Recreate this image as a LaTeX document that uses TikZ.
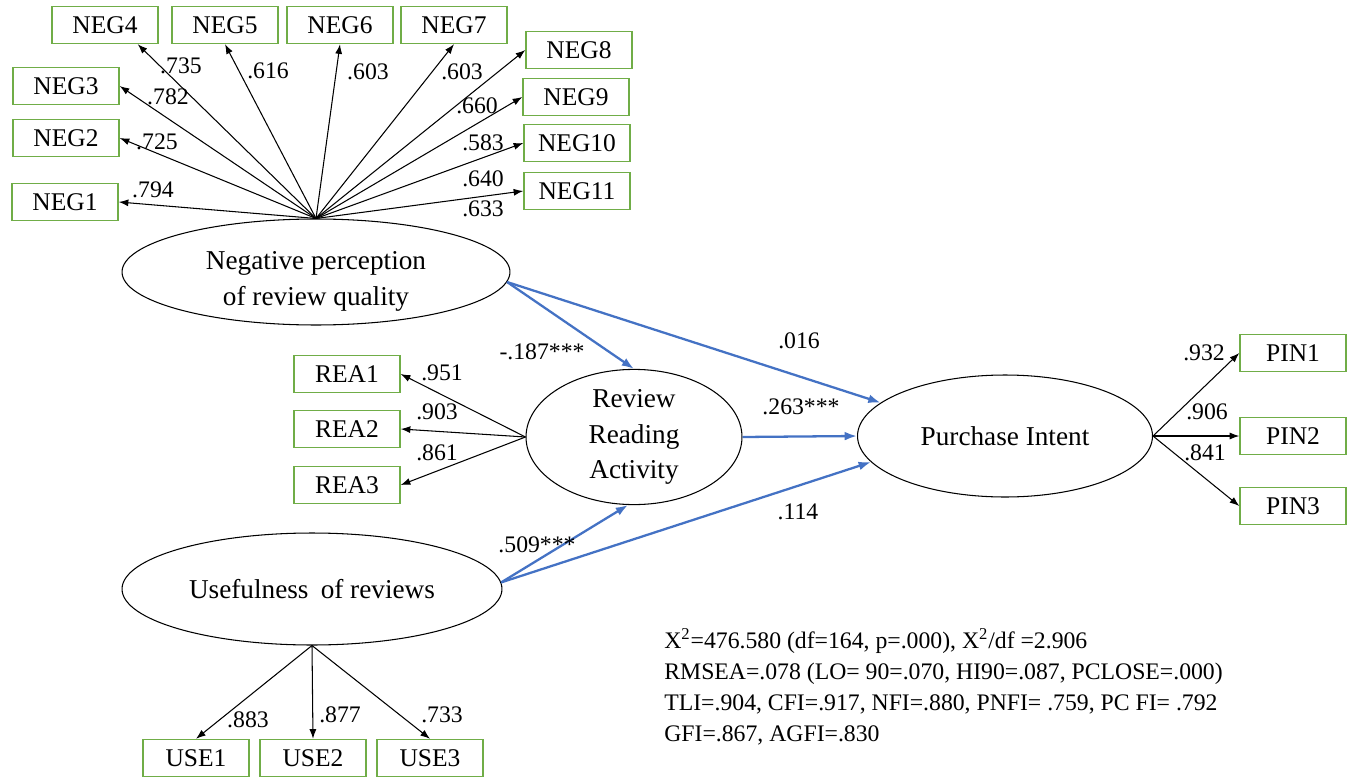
\documentclass[tikz,border=0pt]{standalone}
\usepackage{fontspec}
\setmainfont{Liberation Serif}
\usetikzlibrary{shapes.geometric, arrows.meta}

\definecolor{indgreen}{RGB}{112,173,71}
\definecolor{pathblue}{RGB}{68,114,196}

\begin{document}
\begin{tikzpicture}[x=0.02cm, y=-0.02cm,
  indicator/.style={draw=indgreen, line width=0.8pt, minimum width=2.12cm,
    minimum height=0.74cm, inner sep=0pt, font=\fontsize{14.5}{17}\selectfont},
  construct/.style={ellipse, draw, line width=0.6pt, inner sep=0pt, align=center,
    font=\fontsize{15.5}{20.4}\selectfont},
  loading/.style={-{Latex[length=5.5pt, width=4pt]}, line width=0.6pt},
  effect/.style={-{Latex[length=7pt, width=5pt]}, draw=pathblue, line width=1.3pt},
  coef/.style={inner sep=0pt, font=\fontsize{13.5}{16}\selectfont}]
  \useasboundingbox (0, 0) rectangle (1352, 777);
  % latent constructs
  \node [construct, minimum width=7.76cm, minimum height=2.12cm] (neg) at (316, 272)
    {\raisebox{-0.3cm}[0pt][0pt]{\begin{tabular}{@{}c@{}}Negative perception\\of review quality\end{tabular}}};
  \node [construct, minimum width=4.32cm, minimum height=2.4cm] (rev) at (634, 437) {Review\\Reading\\Activity};
  \node [construct, minimum width=5.9cm, minimum height=2.44cm] (pur) at (1005, 436) {Purchase Intent};
  \node [construct, minimum width=7.6cm, minimum height=2.24cm] (use) at (312, 589) {Usefulness\hspace{0.2em} of reviews};
  % observed indicators
  \node [indicator] (neg1) at (65, 202) {NEG1};
  \node [indicator] (neg2) at (66, 138) {NEG2};
  \node [indicator] (neg3) at (66, 86) {NEG3};
  \node [indicator] (neg4) at (105, 25) {NEG4};
  \node [indicator] (neg5) at (225, 25) {NEG5};
  \node [indicator] (neg6) at (340, 25) {NEG6};
  \node [indicator] (neg7) at (454, 25) {NEG7};
  \node [indicator] (neg8) at (579, 50) {NEG8};
  \node [indicator] (neg9) at (576, 97) {NEG9};
  \node [indicator] (neg10) at (577, 143) {NEG10};
  \node [indicator] (neg11) at (577, 191) {NEG11};
  \node [indicator] (rea1) at (347, 374) {REA1};
  \node [indicator] (rea2) at (347, 429) {REA2};
  \node [indicator] (rea3) at (347, 485) {REA3};
  \node [indicator] (pin1) at (1293, 353) {PIN1};
  \node [indicator] (pin2) at (1293, 436) {PIN2};
  \node [indicator] (pin3) at (1293, 506) {PIN3};
  \node [indicator] (use1) at (196, 758) {USE1};
  \node [indicator] (use2) at (313, 758) {USE2};
  \node [indicator] (use3) at (430, 758) {USE3};
  % loadings
  \draw [loading] (neg.north) -- (neg1.east);
  \draw [loading] (neg.north) -- (neg2.east);
  \draw [loading] (neg.north) -- (neg3.east);
  \draw [loading] (neg.north) -- ([xshift=-0.42cm]neg4.south east);
  \draw [loading] (neg.north) -- (neg5.south);
  \draw [loading] (neg.north) -- (neg6.south);
  \draw [loading] (neg.north) -- (neg7.south);
  \draw [loading] (neg.north) -- (neg8.west);
  \draw [loading] (neg.north) -- (neg9.west);
  \draw [loading] (neg.north) -- (neg10.west);
  \draw [loading] (neg.north) -- (neg11.west);
  \draw [loading] (rev.west) -- (rea1.east);
  \draw [loading] (rev.west) -- (rea2.east);
  \draw [loading] (rev.west) -- (rea3.east);
  \draw [loading] (pur.east) -- (pin1.west);
  \draw [loading] (pur.east) -- (pin2.west);
  \draw [loading] (pur.east) -- (pin3.west);
  \draw [loading] (use.south) -- (use1.north);
  \draw [loading] (use.south) -- (use2.north);
  \draw [loading] (use.south) -- (use3.north);
  % loading values
  \node [coef] (l1) at (153, 190) {.794};
  \node [coef] (l2) at (157, 142) {.725};
  \node [coef] (l3) at (168, 97) {.782};
  \node [coef] (l4) at (181, 66) {.735};
  \node [coef] (l5) at (268, 71) {.616};
  \node [coef] (l6) at (368, 72) {.603};
  \node [coef] (l7) at (462, 72) {.603};
  \node [coef] (l8) at (477, 106) {.660};
  \node [coef] (l9) at (483, 143) {.583};
  \node [coef] (l10) at (483, 179) {.640};
  \node [coef] (l11) at (483, 209) {.633};
  \node [coef] (r1) at (442, 373) {.951};
  \node [coef] (r2) at (437, 412) {.903};
  \node [coef] (r3) at (437, 453) {.861};
  \node [coef] (p1) at (1204, 353) {.932};
  \node [coef] (p2) at (1207, 412) {.906};
  \node [coef] (p3) at (1205, 453) {.841};
  \node [coef] (u1) at (248, 720) {.883};
  \node [coef] (u2) at (340, 715) {.877};
  \node [coef] (u3) at (442, 715) {.733};
  % structural paths
  \draw [effect] (neg.-3) -- (rev.north);
  \draw [effect] (neg.-3) -- (pur.165);
  \draw [effect] (rev.east) -- (pur.west);
  \draw [effect] (use.2) -- (rev.265);
  \draw [effect] (use.2) -- (pur.191);
  \node [coef] (b1) at (542, 352) {-.187***};
  \node [coef] (b2) at (799, 341) {.016};
  \node [coef] (b3) at (801, 407) {.263***};
  \node [coef] (b4) at (798, 512) {.114};
  \node [coef] (b5) at (537, 545) {.509***};
  % model fit
  \node [coef, anchor=north west, align=left, font=\fontsize{13.5}{17.6}\selectfont] (fit) at (664, 628) {%
    X\textsuperscript{2}=476.580 (df=164, p=.000), X\textsuperscript{2}/df =2.906\\
    RMSEA=.078 (LO= 90=.070, HI90=.087, PCLOSE=.000)\\
    TLI=.904, CFI=.917, NFI=.880, PNFI= .759, PC FI= .792\\
    GFI=.867, AGFI=.830};
\end{tikzpicture}
\end{document}
